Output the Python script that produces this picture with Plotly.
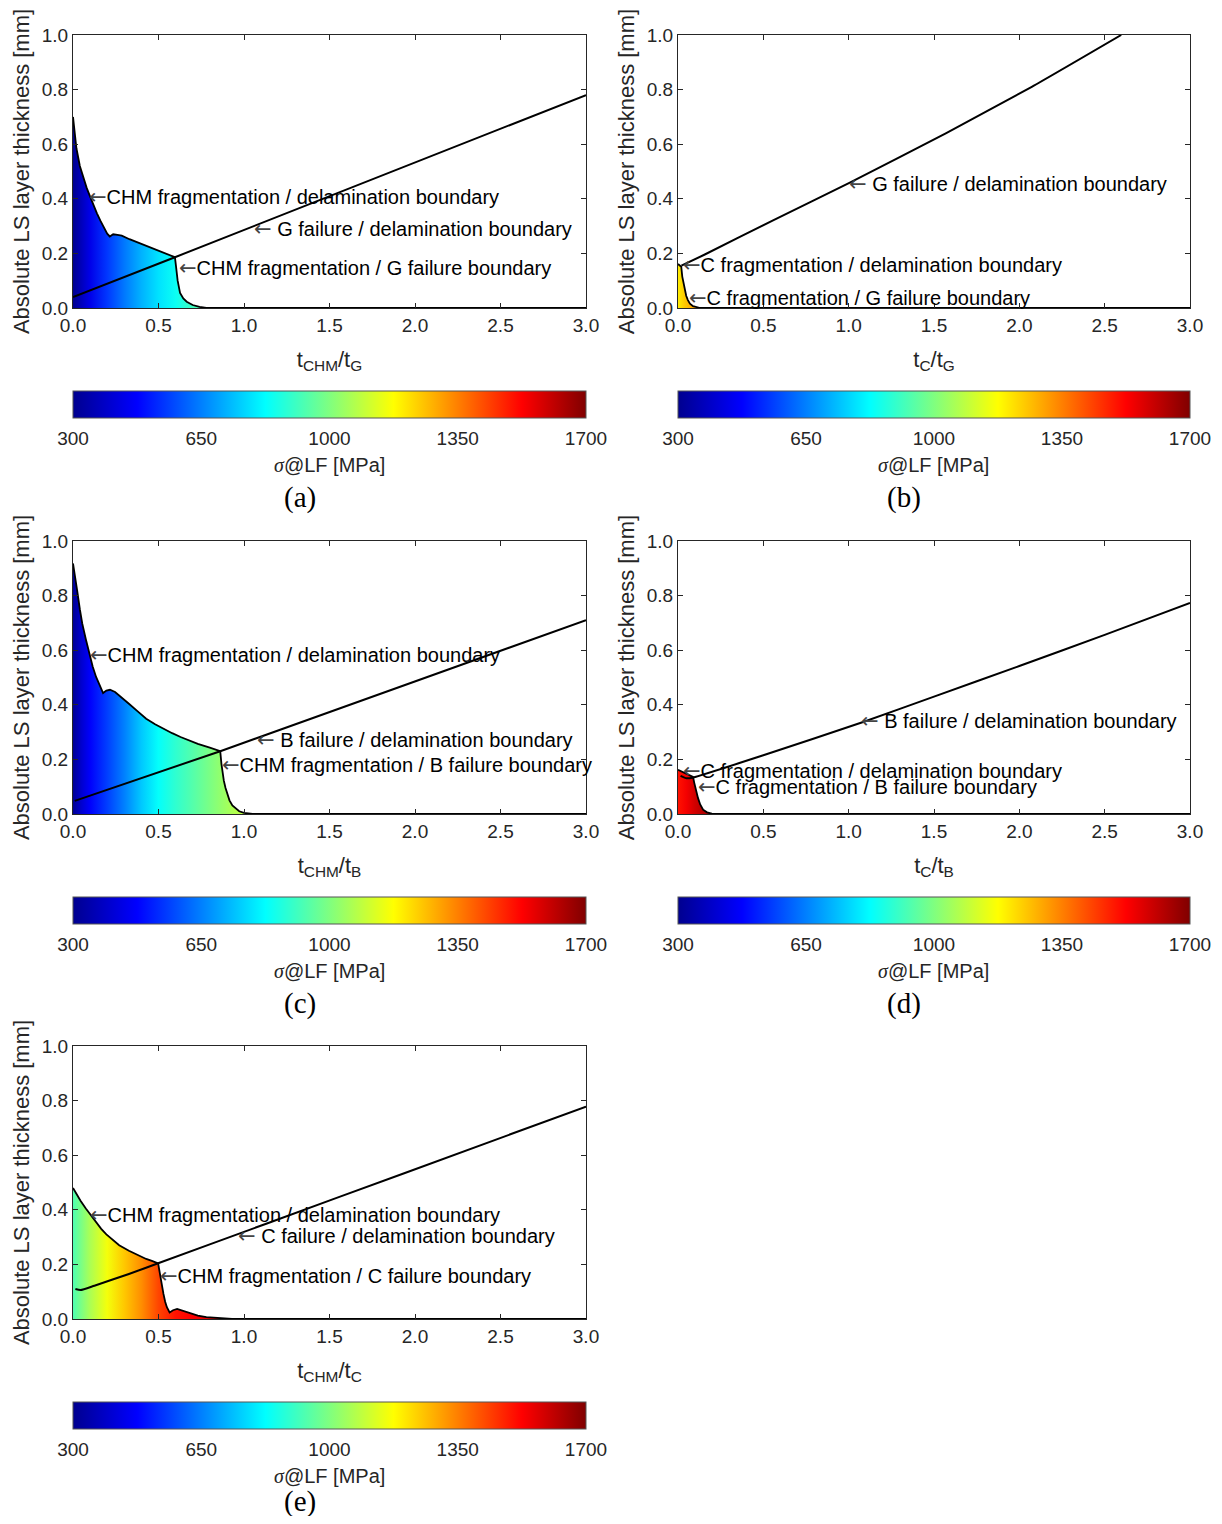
import plotly.graph_objects as go
from plotly.colors import sample_colorscale

# ---------------- data ----------------
# (a) CHM vs G
a_curve_x = [0, 0.02, 0.04, 0.06, 0.08, 0.10, 0.12, 0.14, 0.16, 0.18, 0.20, 0.215, 0.235, 0.26, 0.285,
             0.33, 0.37, 0.411, 0.46, 0.509, 0.55, 0.596, 0.603, 0.612, 0.626, 0.645, 0.665, 0.70, 0.74, 0.78, 3.0]
a_curve_y = [0.70, 0.585, 0.52, 0.477, 0.44, 0.408, 0.375, 0.347, 0.32, 0.295, 0.272, 0.262, 0.27, 0.268, 0.265,
             0.252, 0.242, 0.231, 0.219, 0.206, 0.197, 0.186, 0.15, 0.10, 0.055, 0.035, 0.023, 0.011, 0.004, 0.0, 0.0]
a_line_x = [0.0, 0.596, 3.0]
a_line_y = [0.04, 0.186, 0.78]
a_stress_x = [0, 0.1, 0.2, 0.3, 0.4, 0.5, 0.6, 0.7, 0.8]
a_stress = [300, 440, 550, 640, 720, 785, 840, 910, 960]

# (b) C vs G
b_curve_x = [0, 0.01, 0.019, 0.025, 0.032, 0.039, 0.048, 0.058, 0.07, 0.088, 0.11, 0.13, 3.0]
b_curve_y = [0.161, 0.157, 0.151, 0.115, 0.09, 0.066, 0.045, 0.029, 0.016, 0.007, 0.002, 0.0, 0.0]
b_line_x = [0.02, 0.157, 0.56, 1.004, 1.569, 2.073, 2.597]
b_line_y = [0.155, 0.196, 0.322, 0.458, 0.640, 0.810, 1.0]
b_stress_x = [0, 0.04, 0.08]
b_stress = [1200, 1250, 1290]

# (c) CHM vs B
c_curve_x = [0, 0.012, 0.024, 0.04, 0.054, 0.075, 0.095, 0.115, 0.135, 0.155, 0.176, 0.195, 0.216, 0.246,
             0.28, 0.327, 0.38, 0.428, 0.48, 0.529, 0.58, 0.629, 0.68, 0.73, 0.80, 0.861, 0.868, 0.875, 0.882,
             0.892, 0.902, 0.915, 0.932, 0.95, 0.972, 1.0, 1.05, 3.0]
c_curve_y = [0.918, 0.86, 0.82, 0.75, 0.698, 0.64, 0.588, 0.54, 0.502, 0.47, 0.443, 0.452, 0.455, 0.447,
             0.43, 0.404, 0.375, 0.349, 0.329, 0.312, 0.296, 0.282, 0.269, 0.257, 0.243, 0.23, 0.184, 0.15, 0.122,
             0.095, 0.073, 0.05, 0.031, 0.02, 0.01, 0.004, 0.0, 0.0]
c_line_x = [0.01, 0.861, 3.0]
c_line_y = [0.048, 0.23, 0.71]
c_stress_x = [0, 0.05, 0.1, 0.2, 0.3, 0.4, 0.5, 0.6, 0.7, 0.85, 0.95, 1.05]
c_stress = [310, 400, 470, 560, 650, 750, 830, 890, 940, 1020, 1070, 1100]

# (d) C vs B
d_curve_x = [0, 0.02, 0.04, 0.06, 0.08, 0.088, 0.095, 0.105, 0.117, 0.13, 0.147, 0.17, 0.198, 0.25, 3.0]
d_curve_y = [0.162, 0.156, 0.15, 0.144, 0.139, 0.136, 0.115, 0.085, 0.059, 0.035, 0.016, 0.006, 0.001, 0.0, 0.0]
d_line_x = [0.015, 0.05, 0.09, 0.5, 1.085, 1.5, 2.0, 2.5, 3.0]
d_line_y = [0.14, 0.131, 0.134, 0.215, 0.337, 0.43, 0.542, 0.656, 0.773]
d_stress_x = [0, 0.05, 0.1, 0.15, 0.2]
d_stress = [1500, 1540, 1590, 1630, 1650]

# (e) CHM vs C
e_curve_x = [0, 0.022, 0.044, 0.075, 0.105, 0.135, 0.165, 0.195, 0.226, 0.27, 0.327, 0.38, 0.428, 0.465,
             0.498, 0.503, 0.508, 0.518, 0.529, 0.539, 0.549, 0.565, 0.585, 0.609, 0.63, 0.65, 0.69, 0.73,
             0.78, 0.83, 0.93, 3.0]
e_curve_y = [0.48, 0.455, 0.433, 0.405, 0.379, 0.354, 0.33, 0.31, 0.293, 0.27, 0.25, 0.233, 0.22, 0.212,
             0.204, 0.185, 0.165, 0.13, 0.092, 0.063, 0.043, 0.024, 0.032, 0.037, 0.033, 0.028, 0.02, 0.012,
             0.007, 0.004, 0.0, 0.0]
e_line_x = [0.014, 0.044, 0.125, 0.327, 0.498, 1.134, 1.941, 3.0]
e_line_y = [0.11, 0.106, 0.122, 0.165, 0.204, 0.350, 0.535, 0.778]
e_stress_x = [0, 0.1, 0.2, 0.3, 0.4, 0.5, 0.6, 0.7, 0.8]
e_stress = [930, 1060, 1160, 1250, 1330, 1430, 1500, 1530, 1560]

x_ticks = [0.0, 0.5, 1.0, 1.5, 2.0, 2.5, 3.0]
y_ticks = [0.0, 0.2, 0.4, 0.6, 0.8, 1.0]
cbar_ticks = [300, 650, 1000, 1350, 1700]
panel_letters = ["(a)", "(b)", "(c)", "(d)", "(e)"]
x_titles = ["t<sub>CHM</sub>/t<sub>G</sub>", "t<sub>C</sub>/t<sub>G</sub>",
            "t<sub>CHM</sub>/t<sub>B</sub>", "t<sub>C</sub>/t<sub>B</sub>",
            "t<sub>CHM</sub>/t<sub>C</sub>"]
y_title = "Absolute LS layer thickness [mm]"

# annotation texts and anchor points (arrow tip, data coords); flag = space after arrow
a_labels = [("CHM fragmentation / delamination boundary", False, 0.082, 0.407),
            ("G failure / delamination boundary", True, 1.045, 0.289),
            ("CHM fragmentation / G failure boundary", False, 0.606, 0.147)]
b_labels = [("G failure / delamination boundary", True, 0.99, 0.454),
            ("C fragmentation / delamination boundary", False, 0.02, 0.157),
            ("C fragmentation / G failure boundary", False, 0.052, 0.037)]
c_labels = [("CHM fragmentation / delamination boundary", False, 0.088, 0.584),
            ("B failure / delamination boundary", True, 1.065, 0.271),
            ("CHM fragmentation / B failure boundary", False, 0.862, 0.178)]
d_labels = [("B failure / delamination boundary", True, 1.06, 0.341),
            ("C fragmentation / delamination boundary", False, 0.02, 0.157),
            ("C fragmentation / B failure boundary", False, 0.105, 0.099)]
e_labels = [("CHM fragmentation / delamination boundary", False, 0.088, 0.381),
            ("C failure / delamination boundary", True, 0.955, 0.304),
            ("CHM fragmentation / C failure boundary", False, 0.497, 0.159)]

# ---------------- styling / layout ----------------
OFF = 8                       # browser body margin
W, H = 1222 - 2 * OFF, 1524 - 2 * OFF
JET = [[0.0, 'rgb(0,0,143)'], [0.125, 'rgb(0,0,255)'], [0.375, 'rgb(0,255,255)'],
       [0.625, 'rgb(255,255,0)'], [0.875, 'rgb(255,0,0)'], [1.0, 'rgb(128,0,0)']]
SMIN, SMAX = 300, 1700
SANS = "Liberation Sans, Arial, sans-serif"
SERIF = "Liberation Serif, Times New Roman, serif"
AXC = "#262626"
ARROW = '<span style="font-family:DejaVu Sans;font-size:21px;color:#444">←</span>'


def px(xp):
    return (xp - OFF) / W


def py(yp):
    return 1 - (yp - OFF) / H


cols = [(73, 586), (678, 1190)]
rows = [(35, 308), (541, 814), (1046, 1319)]
panel_pos = [(0, 0), (0, 1), (1, 0), (1, 1), (2, 0)]

panels = [
    (a_curve_x, a_curve_y, a_line_x, a_line_y, a_stress_x, a_stress, a_labels),
    (b_curve_x, b_curve_y, b_line_x, b_line_y, b_stress_x, b_stress, b_labels),
    (c_curve_x, c_curve_y, c_line_x, c_line_y, c_stress_x, c_stress, c_labels),
    (d_curve_x, d_curve_y, d_line_x, d_line_y, d_stress_x, d_stress, d_labels),
    (e_curve_x, e_curve_y, e_line_x, e_line_y, e_stress_x, e_stress, e_labels),
]

fig = go.Figure()
annotations = []
layout = dict(width=W, height=H, margin=dict(l=0, r=0, t=0, b=0, autoexpand=False),
              paper_bgcolor="white", plot_bgcolor="white", showlegend=False)

for i, (cx, cy, lx, ly, sx, s, labels) in enumerate(panels):
    r, c = panel_pos[i]
    left, right = cols[c]
    top, bottom = rows[r]
    n = "" if i == 0 else str(i + 1)
    xa, ya = "x" + n, "y" + n

    layout["xaxis" + n] = dict(
        domain=[px(left), px(right)], range=[0, 3], anchor=ya, automargin=False,
        tickvals=x_ticks, tickformat=".1f", ticks="inside", ticklen=5, tickcolor=AXC,
        showline=True, linecolor=AXC, linewidth=1, mirror="ticks", showgrid=False, zeroline=False,
        tickfont=dict(family=SANS, size=19, color=AXC),
        title=dict(text=x_titles[i], font=dict(family=SANS, size=22, color=AXC), standoff=16))
    layout["yaxis" + n] = dict(
        domain=[py(bottom), py(top)], range=[0, 1], anchor=xa, automargin=False,
        tickvals=y_ticks, tickformat=".1f", ticks="inside", ticklen=5, tickcolor=AXC,
        showline=True, linecolor=AXC, linewidth=1, mirror="ticks", showgrid=False, zeroline=False,
        tickfont=dict(family=SANS, size=19, color=AXC),
        title=dict(text=y_title, font=dict(family=SANS, size=22, color=AXC), standoff=6))

    norm = [(v - SMIN) / (SMAX - SMIN) for v in s]
    cols_s = sample_colorscale(JET, norm)
    span = sx[-1] - sx[0]
    cscale = [[(xv - sx[0]) / span, col] for xv, col in zip(sx, cols_s)]

    fig.add_trace(go.Scatter(
        x=cx, y=cy, mode="lines", fill="tozeroy",
        fillgradient=dict(type="horizontal", colorscale=cscale, start=sx[0], stop=sx[-1]),
        line=dict(color="black", width=1.8), xaxis=xa, yaxis=ya, hoverinfo="skip"))
    fig.add_trace(go.Scatter(
        x=lx, y=ly, mode="lines", line=dict(color="black", width=2, shape="spline", smoothing=0.5),
        xaxis=xa, yaxis=ya, hoverinfo="skip"))

    ca = "coloraxis" + n
    fig.add_trace(go.Scatter(
        x=sx, y=[0] * len(sx), mode="markers",
        marker=dict(color=s, coloraxis=ca, size=1, opacity=0),
        xaxis=xa, yaxis=ya, hoverinfo="skip"))
    cb_top = bottom + 83
    layout[ca] = dict(
        colorscale=JET, cmin=SMIN, cmax=SMAX,
        colorbar=dict(orientation="h", x=px((left + right) / 2), xanchor="center",
                      y=py(cb_top), yanchor="top", len=right - left, lenmode="pixels",
                      thickness=27, thicknessmode="pixels", xpad=0, ypad=0,
                      outlinewidth=1, outlinecolor="#555",
                      tickvals=cbar_ticks, ticks="outside", ticklen=4, tickcolor="rgba(0,0,0,0)",
                      tickfont=dict(family=SANS, size=19, color=AXC)))

    annotations.append(dict(
        xref="paper", yref="paper", x=px((left + right) / 2), y=py(bottom + 157),
        text='<span style="font-family:Liberation Serif"><i>σ</i></span>@LF [MPa]',
        showarrow=False, xanchor="center", yanchor="middle",
        font=dict(family=SANS, size=20, color=AXC)))
    annotations.append(dict(
        xref="paper", yref="paper", x=px((left + right - 60) / 2), y=py(min(bottom + 189, 1501)),
        text=panel_letters[i], showarrow=False, xanchor="center", yanchor="middle",
        font=dict(family=SERIF, size=29, color="black")))

    for txt, spaced, tx, ty in labels:
        annotations.append(dict(
            xref=xa, yref=ya, x=tx, y=ty, text=ARROW + (" " if spaced else "") + txt, showarrow=False,
            xanchor="left", yanchor="middle", font=dict(family=SANS, size=20, color="black")))

layout["annotations"] = annotations
fig.update_layout(**layout)
fig.write_html("out.html")
